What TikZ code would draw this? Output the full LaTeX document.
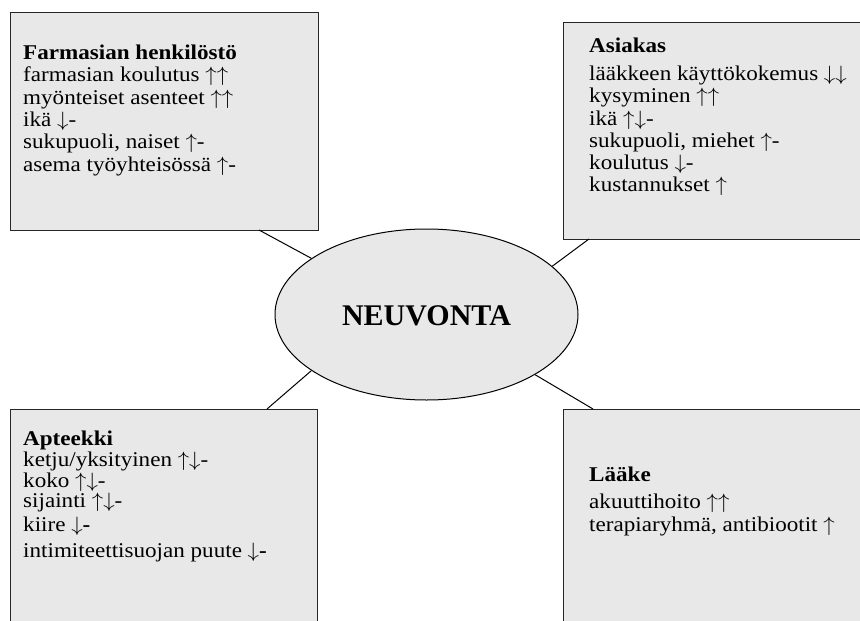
\documentclass[tikz,border=0pt]{standalone}
\usepackage{graphicx}
\usepackage{fontspec}
\setmainfont{Liberation Serif}
\usetikzlibrary{shapes.geometric}
\definecolor{boxgray}{HTML}{E8E8E8}
\newcommand\arrU{\smash{\ensuremath{\uparrow}}}
\newcommand\arrD{\smash{\ensuremath{\downarrow}}}
\newcommand\wide[1]{\scalebox{1.1}[1]{#1}}
\begin{document}
\begin{tikzpicture}[x=1pt,y=-1pt,
  box/.style={draw=black!85, line width=1.4pt, fill=boxgray, anchor=north west, inner sep=0pt},
  txt/.style={anchor=base west, inner sep=0pt, font=\fontsize{21}{24}\selectfont},
  ttl/.style={txt, font=\fontsize{21}{24}\selectfont\bfseries},
  conn/.style={draw=black, line width=1pt}]
\useasboundingbox (0,0) rectangle (860,621);
\clip (0,0) rectangle (860,621);
% boxes
\node[box, minimum width=308pt, minimum height=218pt] (tl) at (10,12) {};
\node[box, minimum width=317pt, minimum height=217pt] (tr) at (563,22) {};
\node[box, minimum width=307pt, minimum height=250pt] (bl) at (10,409) {};
\node[box, minimum width=317pt, minimum height=250pt] (br) at (563,409) {};
% centre ellipse
\node[ellipse, draw=black, line width=1pt, fill=boxgray, minimum width=303pt, minimum height=171pt, inner sep=0pt] (ell) at (426.5,314.5) {};
\node[inner sep=0pt, font=\fontsize{30}{36}\selectfont\bfseries] (neu) at (426.5,316) {NEUVONTA};
% connectors
\coordinate (ctl) at (259,230);
\coordinate (ctr) at (589,239);
\coordinate (cbl) at (267,409);
\coordinate (cbr) at (593,409);
\draw[conn] (ctl) -- (ell.154.3);
\draw[conn] (ctr) -- (ell.21.5);
\draw[conn] (cbl) -- (ell.206.9);
\draw[conn] (cbr) -- (ell.331.9);
% top left text
\node[ttl] (tl0) at (23,59.5) {\wide{Farmasian henkilöstö}};
\node[txt] (tl1) at (23,81.8) {\wide{farmasian koulutus \arrU\arrU}};
\node[txt] (tl2) at (23,104.1) {\wide{myönteiset asenteet \arrU\arrU}};
\node[txt] (tl3) at (23,126.6) {\wide{ikä \arrD-}};
\node[txt] (tl4) at (23,148.8) {\wide{sukupuoli, naiset \arrU-}};
\node[txt] (tl5) at (23,171.1) {\wide{asema työyhteisössä \arrU-}};
% top right text
\node[ttl] (tr0) at (589,52) {\wide{Asiakas}};
\node[txt] (tr1) at (589,80.5) {\wide{lääkkeen käyttökokemus \arrD\arrD}};
\node[txt] (tr2) at (589,102.7) {\wide{kysyminen \arrU\arrU}};
\node[txt] (tr3) at (589,125) {\wide{ikä \arrU\arrD-}};
\node[txt] (tr4) at (589,147.3) {\wide{sukupuoli, miehet \arrU-}};
\node[txt] (tr5) at (589,169.6) {\wide{koulutus \arrD-}};
\node[txt] (tr6) at (589,191.9) {\wide{kustannukset \arrU}};
% bottom left text
\node[ttl] (bl0) at (23,445) {\wide{Apteekki}};
\node[txt] (bl1) at (23,466.7) {\wide{ketju/yksityinen \arrU\arrD-}};
\node[txt] (bl2) at (23,487.3) {\wide{koko \arrU\arrD-}};
\node[txt] (bl3) at (23,507.3) {\wide{sijainti \arrU\arrD-}};
\node[txt] (bl4) at (23,531.7) {\wide{kiire \arrD\textbf{-}}};
\node[txt] (bl5) at (23,557.7) {\wide{intimiteettisuojan puute \arrD\textbf{-}}};
% bottom right text
\node[ttl] (br0) at (589,481) {\wide{Lääke}};
\node[txt] (br1) at (589,508.5) {\wide{akuuttihoito \arrU\arrU}};
\node[txt] (br2) at (589,531.5) {\wide{terapiaryhmä, antibiootit \arrU}};
\end{tikzpicture}
\end{document}
